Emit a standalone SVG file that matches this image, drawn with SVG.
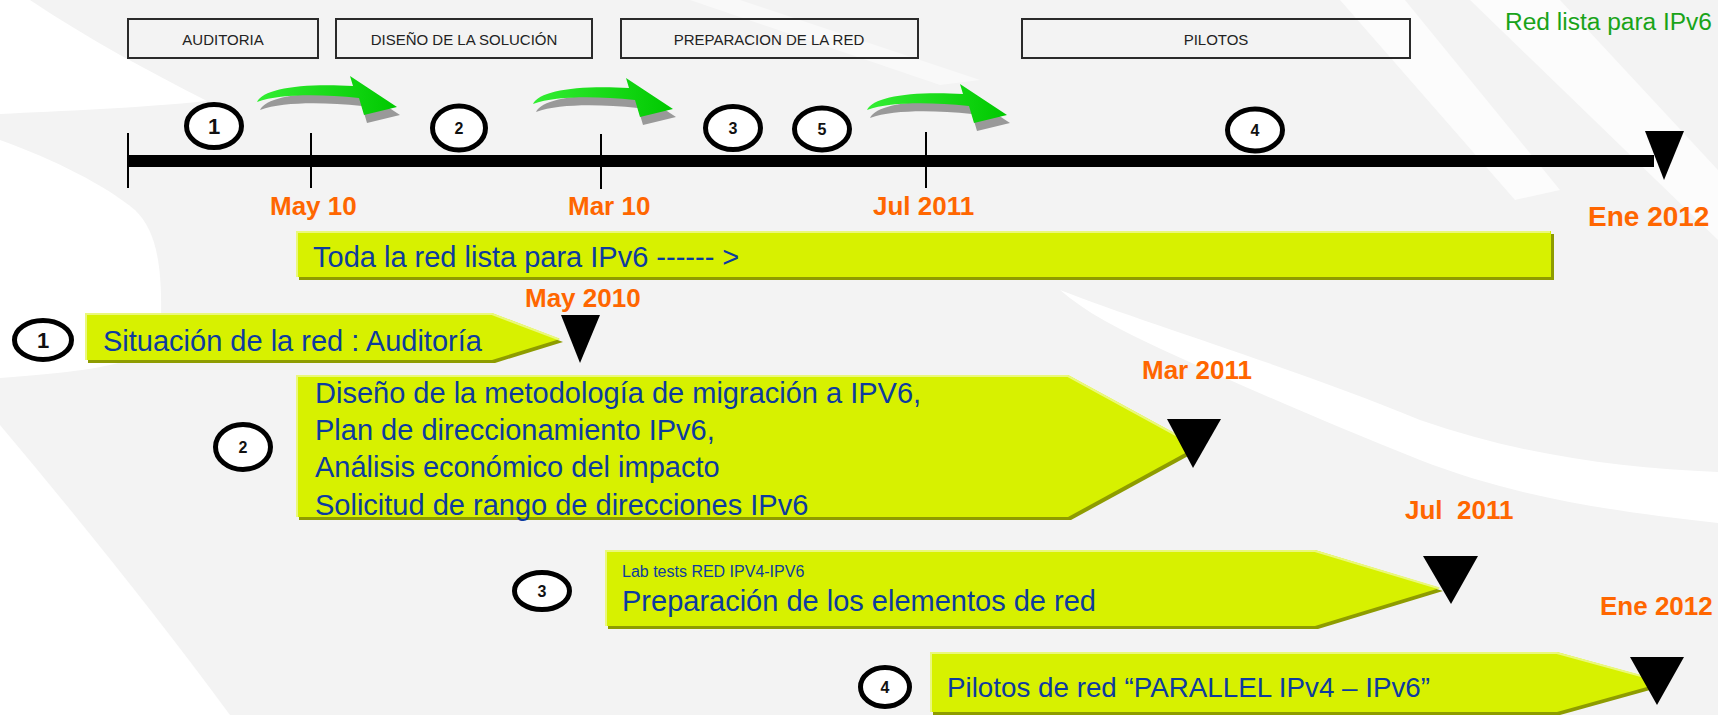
<svg xmlns="http://www.w3.org/2000/svg" width="1718" height="715" viewBox="0 0 1718 715">
<defs>
<style>
.box{fill:none;stroke:#2a2a2a;stroke-width:2}
.boxt{font-family:"Liberation Sans",Arial,sans-serif;font-size:15px;fill:#222;text-anchor:middle}
.date{font-family:"Liberation Sans",Arial,sans-serif;font-weight:bold;font-size:26px;fill:#FF6600}
.num{font-family:"Liberation Sans",Arial,sans-serif;font-weight:bold;font-size:16px;fill:#111;text-anchor:middle}
.num1{font-size:22px}
.circ{fill:#fff;stroke:#000;stroke-width:5}
.bar{fill:#D7F100}
.shad{fill:#8E9C00}
.hl{fill:none;stroke:#EAF87C;stroke-width:2}
.bt{font-family:"Liberation Sans",Arial,sans-serif;font-size:29px;fill:#0D3B9F}
.tri{fill:#000}
.tick{stroke:#000;stroke-width:2}
.bg{fill:#fff}
</style>
<linearGradient id="gg" x1="0" y1="0" x2="1" y2="0"><stop offset="0" stop-color="#33EE33"/><stop offset="1" stop-color="#00C800"/></linearGradient>
<path id="garrow" d="M257,102 C263,89 300,83 353,86 L350,76 L397,107 L364,115 L359,98 C318,94 280,94 257,102 Z"/>
</defs>

<g id="background">
<rect width="1718" height="715" fill="#F3F3F3"/>
<path class="bg" d="M0,0 L30,0 C90,40 150,72 207,101 C140,108 60,111 0,114 Z"/>
<path class="bg" d="M0,140 C55,160 105,185 135,210 C158,232 162,270 161,320 C160,355 140,368 0,378 Z"/>
<path class="bg" d="M0,425 C80,520 160,620 230,715 L0,715 Z"/>
<path class="bg" d="M1060,290 C1150,325 1300,370 1420,420 C1520,455 1620,468 1718,472 L1718,523 C1600,510 1510,495 1420,460 C1320,420 1240,385 1163,350 C1120,330 1085,312 1060,290 Z"/>
<path class="bg" opacity="0.7" d="M1340,0 L1405,0 L1560,190 L1515,200 Z"/>
<path class="bg" opacity="0.7" d="M1470,0 L1560,0 L1718,170 L1718,240 Z"/>
<path class="bg" opacity="0.5" d="M690,0 L740,0 L980,80 L940,85 Z"/>
</g>

<g id="phase-boxes">
<g id="box-auditoria"><rect class="box" x="128" y="19" width="190" height="39"/><text class="boxt" x="223" y="45">AUDITORIA</text></g>
<g id="box-diseno"><rect class="box" x="336" y="19" width="256" height="39"/><text class="boxt" x="464" y="45">DISEÑO DE LA SOLUCIÓN</text></g>
<g id="box-preparacion"><rect class="box" x="621" y="19" width="297" height="39"/><text class="boxt" x="769" y="45">PREPARACION DE LA RED</text></g>
<g id="box-pilotos"><rect class="box" x="1022" y="19" width="388" height="39"/><text class="boxt" x="1216" y="45">PILOTOS</text></g>
</g>

<g id="label-red-lista"><text x="1505" y="30" font-family="'Liberation Sans',Arial,sans-serif" font-size="23" fill="#19A319" textLength="207" lengthAdjust="spacingAndGlyphs">Red lista para IPv6</text></g>

<g id="timeline">
<rect x="128" y="155" width="1526" height="12" fill="#000"/>
<polygon class="tri" points="1645,131 1684,131 1664,180"/>
<line class="tick" x1="128" y1="133" x2="128" y2="188"/>
<line class="tick" x1="311" y1="133" x2="311" y2="188"/>
<line class="tick" x1="601" y1="134" x2="601" y2="189"/>
<line class="tick" x1="926" y1="132" x2="926" y2="188"/>
</g>

<g id="connectors">
<use href="#garrow" fill="#999" transform="translate(3,8)"/>
<use href="#garrow" fill="url(#gg)"/>
<use href="#garrow" fill="#999" transform="translate(279,10)"/>
<use href="#garrow" fill="url(#gg)" transform="translate(276,2)"/>
<use href="#garrow" fill="#999" transform="translate(613,16)"/>
<use href="#garrow" fill="url(#gg)" transform="translate(610,8)"/>
</g>

<g id="timeline-markers">
<g id="m1"><ellipse class="circ" cx="214" cy="126" rx="27.5" ry="21.5"/><text class="num num1" x="214" y="134">1</text></g>
<g id="m2"><ellipse class="circ" cx="459" cy="128" rx="26.5" ry="22"/><text class="num" x="459" y="134">2</text></g>
<g id="m3"><ellipse class="circ" cx="733" cy="128" rx="27.5" ry="21.5"/><text class="num" x="733" y="134">3</text></g>
<g id="m5"><ellipse class="circ" cx="822" cy="129" rx="27.5" ry="21"/><text class="num" x="822" y="135">5</text></g>
<g id="m4"><ellipse class="circ" cx="1255" cy="130" rx="27.5" ry="21"/><text class="num" x="1255" y="136">4</text></g>
</g>

<g id="dates-top">
<text class="date" x="270" y="215">May 10</text>
<text class="date" x="568" y="215">Mar 10</text>
<text class="date" x="873" y="215">Jul 2011</text>
<text class="date" x="1588" y="226" style="font-size:28px">Ene 2012</text>
</g>

<g id="bar-toda">
<rect class="shad" x="299" y="234" width="1255" height="46"/>
<rect class="bar" x="296" y="231" width="1255" height="46"/>
<polyline class="hl" points="297,277 297,232 1550,232"/>
<text class="bt" x="313" y="267">Toda la red lista para IPv6 ------ &gt;</text>
</g>

<g id="step1">
<ellipse class="circ" cx="43" cy="340" rx="28.5" ry="19.5"/><text class="num num1" x="43" y="348">1</text>
<polygon class="shad" points="88,316 495,316 563,342 495,363 88,363"/>
<polygon class="bar" points="85,313 492,313 560,339 492,360 85,360"/>
<polyline class="hl" points="86,360 86,314 492,314 558,339"/>
<text class="bt" x="103" y="351">Situación de la red : Auditoría</text>
<polygon class="tri" points="561,315 600,315 580,363"/>
<text class="date" x="525" y="307">May 2010</text>
</g>

<g id="step2">
<ellipse class="circ" cx="243" cy="447" rx="27.5" ry="22.5"/><text class="num" x="243" y="453">2</text>
<polygon class="shad" points="299,378 1071,378 1201,449 1071,520 299,520"/>
<polygon class="bar" points="296,375 1068,375 1198,446 1068,517 296,517"/>
<polyline class="hl" points="297,517 297,376 1068,376 1196,446"/>
<text class="bt" x="315" y="403">Diseño de la metodología de migración a IPV6,</text>
<text class="bt" x="315" y="440">Plan de direccionamiento IPv6,</text>
<text class="bt" x="315" y="477">Análisis económico del impacto</text>
<text class="bt" x="315" y="515">Solicitud de rango de direcciones IPv6</text>
<polygon class="tri" points="1167,419 1221,419 1193,468"/>
<text class="date" x="1142" y="379">Mar 2011</text>
</g>

<g id="step3">
<ellipse class="circ" cx="542" cy="591" rx="27.5" ry="18.5"/><text class="num" x="542" y="597">3</text>
<polygon class="shad" points="608,553 1318,553 1443,591 1318,629 608,629"/>
<polygon class="bar" points="605,550 1315,550 1440,588 1315,626 605,626"/>
<polyline class="hl" points="606,626 606,551 1315,551 1438,588"/>
<text class="bt" x="622" y="577" style="font-size:16px">Lab tests RED IPV4-IPV6</text>
<text class="bt" x="622" y="611">Preparación de los elementos de red</text>
<polygon class="tri" points="1423,556 1478,556 1451,604"/>
<text class="date" x="1405" y="519" xml:space="preserve">Jul  2011</text>
</g>

<g id="step4">
<ellipse class="circ" cx="885" cy="687" rx="24.5" ry="19.5"/><text class="num" x="885" y="693">4</text>
<polygon class="shad" points="933,655 1560,655 1668,685 1560,715 933,715"/>
<polygon class="bar" points="930,652 1557,652 1665,682 1557,712 930,712"/>
<polyline class="hl" points="931,712 931,653 1557,653 1663,682"/>
<text class="bt" x="947" y="697" style="font-size:28px" textLength="483" lengthAdjust="spacingAndGlyphs">Pilotos de red “PARALLEL IPv4 – IPv6”</text>
<polygon class="tri" points="1630,657 1684,657 1657,705"/>
<text class="date" x="1600" y="615">Ene 2012</text>
</g>
</svg>
